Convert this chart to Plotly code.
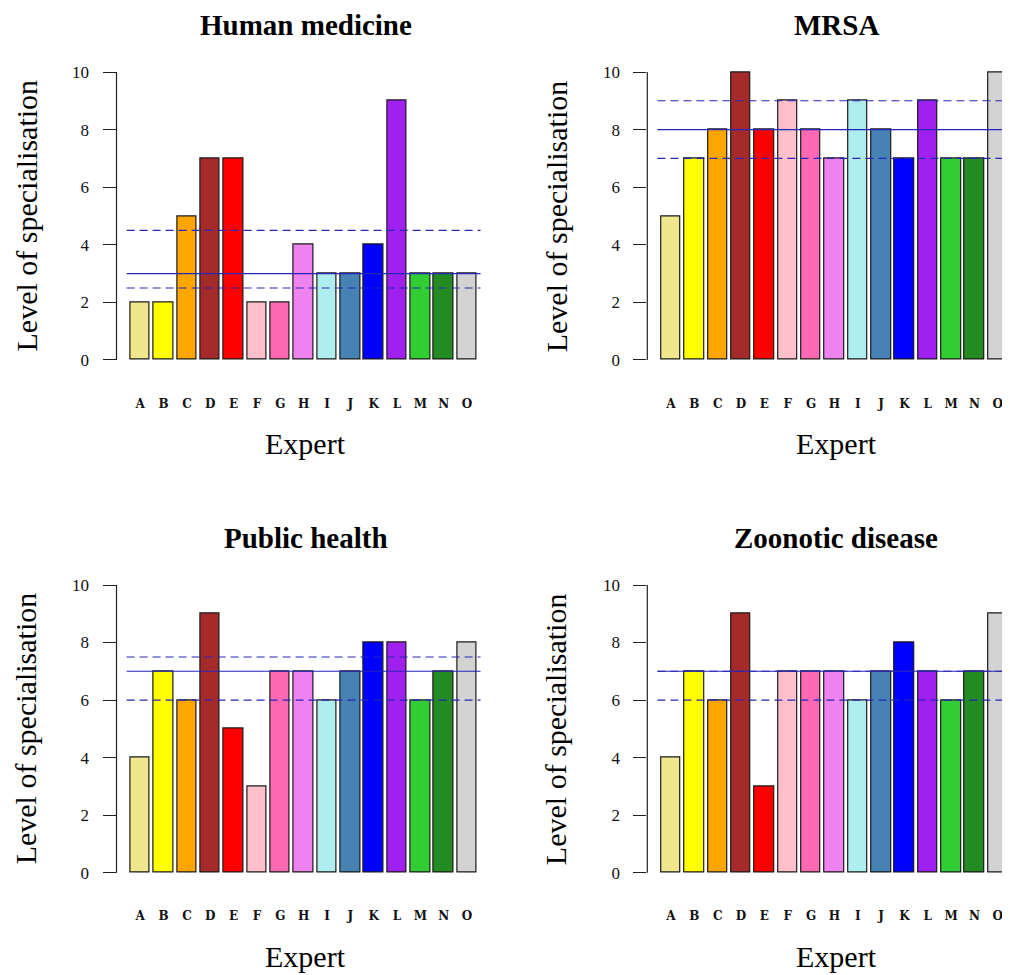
import plotly.graph_objects as go

# ---------------- data ----------------
experts = list("ABCDEFGHIJKLMNO")
bar_colors = ["#F0E68C", "#FFFF00", "#FFA500", "#A52A2A", "#FF0000",
              "#FFC0CB", "#FF69B4", "#EE82EE", "#AFEEEE", "#4682B4",
              "#0000FF", "#A020F0", "#32CD32", "#228B22", "#D3D3D3"]

panel_titles = ["Human medicine", "MRSA", "Public health", "Zoonotic disease"]
human_medicine = [2, 2, 5, 7, 7, 2, 2, 4, 3, 3, 4, 9, 3, 3, 3]
mrsa = [5, 7, 8, 10, 8, 9, 8, 7, 9, 8, 7, 9, 7, 7, 10]
public_health = [4, 7, 6, 9, 5, 3, 7, 7, 6, 7, 8, 8, 6, 7, 8]
zoonotic_disease = [4, 7, 6, 9, 3, 7, 7, 7, 6, 7, 8, 7, 6, 7, 9]
medians = [3, 8, 7, 7]
lower_quartiles = [2.5, 7, 6, 6]
upper_quartiles = [4.5, 9, 7.5, 7]

y_ticks = [0, 2, 4, 6, 8, 10]
x_title = "Expert"
y_title = "Level of specialisation"

panels = [human_medicine, mrsa, public_health, zoonotic_disease]

# ---------------- layout geometry (screen pixels) ----------------
OFF = 8                     # default page margin of the html body
W, H = 1010 - OFF, 975 - OFF
PX_PER_UNIT = 19.45
X_MIN = -0.52
# bar centres as in R barplot (width 1, space 0.2)
centres = [0.7 + 1.2 * i for i in range(len(experts))]
line_x = [0.0, 18.2]

left_px = [116.5 - OFF, 647.3 - OFF]
top_plot_px = [(60.5 - OFF, 371.5 - OFF), (573.5 - OFF, 884.2 - OFF)]

fig = go.Figure()
serif = "Liberation Serif"

for p, values in enumerate(panels):
    row, col = divmod(p, 2)
    n = p + 1
    xa = "x" if n == 1 else f"x{n}"
    ya = "y" if n == 1 else f"y{n}"
    xl = left_px[col]
    xr = min(W, xl + 19.44 * PX_PER_UNIT)
    x_max = X_MIN + (xr - xl) / PX_PER_UNIT
    ytop, ybot = top_plot_px[row]

    fig.add_trace(go.Bar(
        x=centres, y=values, width=1.0,
        marker=dict(color=bar_colors, line=dict(color="#1a1a1a", width=1.2)),
        xaxis=xa, yaxis=ya, showlegend=False, hoverinfo="skip"))

    for val, dash in [(medians[p], "solid"), (lower_quartiles[p], "8px,5px"),
                      (upper_quartiles[p], "8px,5px")]:
        fig.add_trace(go.Scatter(
            x=line_x, y=[val, val], mode="lines",
            line=dict(color="#2626b8", width=1.1, dash=dash),
            xaxis=xa, yaxis=ya, showlegend=False, hoverinfo="skip", cliponaxis=True))

    xkey = "xaxis" if n == 1 else f"xaxis{n}"
    ykey = "yaxis" if n == 1 else f"yaxis{n}"
    fig.layout[xkey] = dict(
        domain=[xl / W, xr / W], range=[X_MIN, x_max], anchor=ya,
        showgrid=False, zeroline=False, showline=False, ticks="",
        tickmode="array", tickvals=centres, ticktext=experts,
        tickfont=dict(family="DejaVu Serif", size=12, color="#111", weight="bold"),
        ticklabelstandoff=23, fixedrange=True)
    fig.layout[ykey] = dict(
        domain=[1 - ybot / H, 1 - ytop / H], range=[-0.4, 10.4], anchor=xa,
        showgrid=False, zeroline=False, showline=False,
        ticks="outside", ticklen=13, tickwidth=1.2, tickcolor="#222",
        tickmode="array", tickvals=y_ticks,
        tickfont=dict(family=serif, size=17, color="#111"),
        ticklabelstandoff=10, fixedrange=True)

    # R-style y axis line from first to last tick
    fig.add_shape(type="line", xref=f"{xa} domain", x0=0, x1=0,
                  yref=ya, y0=y_ticks[0], y1=y_ticks[-1],
                  line=dict(color="#222", width=1.2))

    x_mid = (X_MIN + 18.92) / 2
    # panel title
    fig.add_annotation(text=f"<b>{panel_titles[p]}</b>", xref=xa, x=x_mid,
                       yref="paper", y=1 - (ytop - 36) / H, yanchor="middle",
                       showarrow=False, font=dict(family=serif, size=29, color="#000"))
    # x title
    fig.add_annotation(text=x_title, xref=xa, x=x_mid,
                       yref="paper", y=1 - (ybot + 72) / H, yanchor="middle",
                       showarrow=False, font=dict(family=serif, size=30, color="#000"))
    # y title
    fig.add_annotation(text=y_title, xref="paper", x=(xl - 91) / W, xanchor="center",
                       yref=f"{ya} domain", y=0.5, yanchor="middle", textangle=-90,
                       showarrow=False, font=dict(family=serif, size=30, color="#000"))

fig.update_layout(
    width=W, height=H, margin=dict(l=0, r=0, t=0, b=0),
    paper_bgcolor="white", plot_bgcolor="white", bargap=0,
)

fig.write_html("out.html")
